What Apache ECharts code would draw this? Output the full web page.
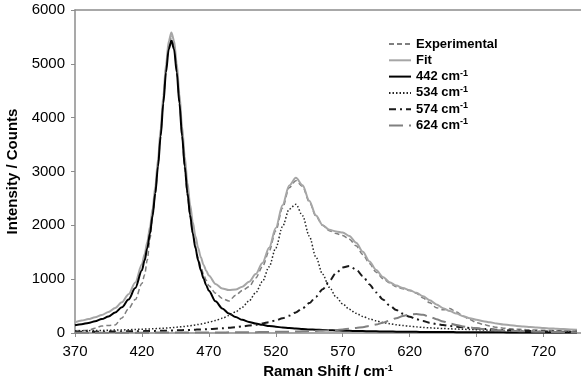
<!DOCTYPE html>
<html>
<head>
<meta charset="utf-8">
<script src="https://cdn.jsdelivr.net/npm/echarts@6/dist/echarts.min.js"></script>
<style>
  html, body { margin: 0; padding: 0; background: #fff; }
  #chart { width: 581px; height: 383px; }
</style>
</head>
<body>
<div id="chart"></div>
<script>
// Raman shift positions (cm-1)
var ramanShift = [
    370, 375, 380, 385, 390, 395, 400, 405, 410, 415,
    420, 422, 424, 426, 428, 430, 432, 434, 436, 438, 440, 442, 444, 446, 448,
    450, 452, 454, 456, 458, 460, 462, 464, 466, 468, 470,
    475, 480, 485, 490, 495, 500, 505, 510, 515, 520,
    525, 530, 535, 540, 545, 550, 555, 560, 565, 570,
    575, 580, 585, 590, 595, 600, 605, 610, 615, 620,
    625, 630, 635, 640, 645, 650, 655, 660, 665, 670,
    675, 680, 685, 690, 695, 700, 705, 710, 715, 720,
    725, 730, 735, 740, 745
];

var experimental = [
    40, 45, 50, 90, 130, 140, 150, 280, 450, 620,
    920, 1080, 1360, 1750, 2150, 2600, 3100, 3700, 4330, 4920, 5340, 5500, 5340, 4900, 4300,
    3650, 3050, 2550, 2150, 1850, 1620, 1400, 1230, 1090, 980, 880,
    740, 640, 595, 700, 790, 860, 1020, 1230, 1520, 1900,
    2320, 2700, 2830, 2720, 2440, 2170, 2000, 1900, 1850, 1810,
    1740, 1620, 1460, 1290, 1130, 1010, 930, 860, 820, 790,
    740, 650, 560, 470, 430, 455, 390, 310, 250, 190,
    160, 130, 105, 90, 80, 70, 65, 60, 55, 52,
    50, 48, 45, 42, 40
];

var fit = [
    200, 230, 258, 292, 335, 389, 465, 570, 719, 938,
    1275, 1463, 1690, 1968, 2312, 2726, 3223, 3794, 4408, 4988, 5419, 5583, 5430, 5009, 4440,
    3837, 3277, 2791, 2388, 2059, 1795, 1581, 1407, 1269, 1158, 1067,
    910, 827, 797, 809, 860, 952, 1094, 1300, 1582, 1951,
    2374, 2738, 2883, 2744, 2457, 2182, 2002, 1916, 1887, 1866,
    1801, 1676, 1508, 1329, 1169, 1041, 945, 881, 836, 796,
    746, 682, 607, 531, 462, 410, 360, 310, 276, 246,
    220, 198, 178, 160, 145, 132, 120, 110, 100, 92,
    85, 78, 72, 66, 60
];

var peak442 = [
    145, 163, 188, 218, 258, 307, 379, 478, 621, 834,
    1165, 1350, 1574, 1849, 2188, 2599, 3092, 3659, 4269, 4844, 5271, 5430, 5271, 4844, 4269,
    3659, 3092, 2599, 2188, 1849, 1574, 1350, 1165, 1014, 889, 784,
    588, 456, 362, 295, 244, 205, 175, 151, 131, 116,
    102, 91, 82, 74, 67, 61, 56, 51, 47, 43,
    40, 37, 35, 33, 31, 29, 27, 25, 24, 23,
    21, 20, 19, 18, 17, 17, 16, 15, 14, 14,
    13, 13, 12, 12, 11, 11, 11, 10, 10, 10,
    9, 9, 9, 9, 8
];

var peak534 = [
    40, 42, 44, 46, 48, 51, 54, 57, 61, 66,
    70, 72, 74, 76, 79, 81, 84, 87, 90, 93, 96, 100, 104, 108, 112,
    117, 122, 128, 134, 141, 150, 158, 167, 177, 188, 200,
    232, 272, 325, 392, 480, 595, 748, 955, 1230, 1580,
    1975, 2300, 2390, 2180, 1800, 1410, 1090, 850, 670, 540,
    440, 365, 308, 262, 226, 197, 173, 154, 138, 125,
    114, 104, 96, 89, 83, 78, 73, 69, 65, 61,
    56, 52, 48, 44, 41, 38, 36, 33, 31, 29,
    28, 26, 25, 23, 22
];

var peak574 = [
    20, 21, 22, 23, 24, 26, 27, 29, 31, 32,
    34, 35, 36, 37, 38, 39, 40, 41, 42, 44, 45, 46, 48, 49, 51,
    53, 55, 56, 58, 60, 62, 64, 66, 69, 71, 73,
    80, 88, 98, 109, 122, 137, 155, 176, 202, 234,
    274, 322, 383, 459, 555, 672, 812, 965, 1112, 1216,
    1243, 1182, 1056, 903, 754, 623, 514, 427, 357, 301,
    257, 221, 191, 167, 147, 130, 116, 104, 94, 85,
    76, 68, 61, 55, 49, 44, 40, 36, 33, 30,
    28, 26, 24, 22, 21
];

var peak624 = [
    4, 4, 4, 5, 5, 5, 5, 6, 6, 6,
    6, 6, 6, 6, 7, 7, 7, 7, 7, 7, 7, 7, 7, 8, 8,
    8, 8, 8, 8, 9, 9, 9, 9, 9, 10, 10,
    10, 11, 12, 13, 14, 15, 16, 18, 19, 21,
    23, 25, 28, 31, 35, 39, 44, 50, 58, 67,
    78, 92, 109, 131, 158, 192, 231, 275, 317, 347,
    354, 337, 301, 257, 215, 178, 147, 122, 102, 86,
    73, 62, 53, 46, 40, 35, 31, 27, 24, 21,
    19, 17, 16, 15, 14
];

var font = 'Liberation Sans, Arial, sans-serif';

function pairs(values) {
    var out = [];
    for (var i = 0; i < ramanShift.length; i++) {
        out.push([ramanShift[i], values[i]]);
    }
    return out;
}

function makeLine(name, values, color, width, dash) {
    return {
        name: name,
        type: 'line',
        xAxisIndex: 0,
        data: pairs(values),
        symbol: 'none',
        smooth: 0.3,
        smoothMonotone: 'x',
        lineStyle: { color: color, width: width, type: dash },
        itemStyle: { color: color }
    };
}

var supRich = {
    sup: { fontSize: 9, fontWeight: 'bold', fontFamily: font, color: '#000', verticalAlign: 'top', padding: [0, 0, 5, 0] }
};

var chart = echarts.init(document.getElementById('chart'));

var option = {
    animation: false,
    backgroundColor: '#fff',
    grid: { left: 75, right: 0, top: 10, bottom: 50, containLabel: false, outerBoundsMode: 'none' },
    legend: {
        orient: 'vertical',
        left: 383,
        top: 31,
        itemWidth: 22,
        itemHeight: 10,
        itemGap: 0.3,
        itemStyle: { opacity: 0 },
        textStyle: {
            fontFamily: font, fontSize: 13, fontWeight: 'bold', color: '#000', lineHeight: 16,
            rich: supRich
        },
        formatter: function (name) {
            return name.replace(' cm-1', ' cm{sup|-1}');
        },
        data: ['Experimental', 'Fit', '442 cm-1', '534 cm-1', '574 cm-1', '624 cm-1']
    },
    xAxis: [{
        type: 'value',
        min: 370,
        max: 748,
        interval: 50,
        name: 'Raman Shift / cm{sup|-1}',
        nameLocation: 'middle',
        nameGap: 31,
        nameTextStyle: {
            fontFamily: font, fontSize: 15, fontWeight: 'bold', color: '#000',
            rich: supRich
        },
        axisLine: { show: true, lineStyle: { color: '#8c8c8c', width: 1.5 } },
        axisTick: { show: true, length: 4, lineStyle: { color: '#8c8c8c' } },
        axisLabel: {
            fontFamily: font, fontSize: 15, color: '#000', margin: 11,
            formatter: function (v) { return (v - 370) % 50 === 0 ? String(v) : ''; }
        },
        splitLine: { show: false }
    }, {
        type: 'value',
        position: 'top',
        min: 370,
        max: 748,
        axisLine: { show: true, lineStyle: { color: '#8c8c8c', width: 1.5 } },
        axisTick: { show: false },
        axisLabel: { show: false },
        splitLine: { show: false }
    }],
    yAxis: {
        type: 'value',
        min: 0,
        max: 6000,
        interval: 1000,
        name: 'Intensity / Counts',
        nameLocation: 'middle',
        nameGap: 47,
        nameTextStyle: { fontFamily: font, fontSize: 15, fontWeight: 'bold', color: '#000' },
        axisLine: { show: true, lineStyle: { color: '#8c8c8c', width: 1.5 } },
        axisTick: { show: true, length: 4, lineStyle: { color: '#8c8c8c' } },
        axisLabel: {
            fontFamily: font, fontSize: 15, color: '#000', margin: 10,
            formatter: function (v) { return String(v); }
        },
        splitLine: { show: false }
    },
    series: [
        makeLine('Experimental', experimental, '#7f7f7f', 1.5, [5, 3]),
        makeLine('Fit', fit, '#a6a6a6', 2, 'solid'),
        makeLine('442 cm-1', peak442, '#000000', 2, 'solid'),
        makeLine('534 cm-1', peak534, '#262626', 1.5, [1.5, 2]),
        makeLine('574 cm-1', peak574, '#1a1a1a', 2, [7, 4, 2, 4]),
        makeLine('624 cm-1', peak624, '#808080', 2, [14, 6])
    ]
};

chart.setOption(option);
</script>
</body>
</html>
